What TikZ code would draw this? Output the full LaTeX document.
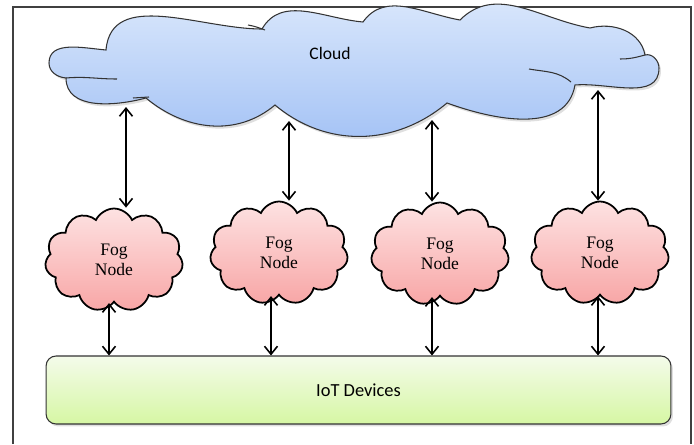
\documentclass[tikz,border=0pt]{standalone}
\usepackage{fontspec}
\setmainfont{Liberation Serif}
\newfontfamily\calfont{Carlito}
\usepackage{tikz}
\usetikzlibrary{shapes.symbols, shadows, arrows.meta, positioning}
\definecolor{skytop}{HTML}{DEEAFC}
\definecolor{skybot}{HTML}{A2C1F5}
\definecolor{fogtop}{HTML}{FDE2E2}
\definecolor{fogbot}{HTML}{F8A6A6}
\definecolor{iottop}{HTML}{F4FBEA}
\definecolor{iotbot}{HTML}{D6F7A4}

\begin{document}
\begin{tikzpicture}[x=0.02cm, y=0.02cm,
    sky/.style={draw=black!80, line width=0.6pt, top color=skytop, bottom color=skybot,
        drop shadow={shadow xshift=0.04cm, shadow yshift=-0.05cm, opacity=0.25}},
    skyline/.style={draw=black!80, line width=0.6pt},
    fog/.style={cloud, cloud puffs=11, cloud puff arc=130, cloud ignores aspect, draw=black, line width=1pt,
        top color=fogtop, bottom color=fogbot, minimum width=2.76cm, minimum height=2.06cm,
        align=center, font=\fontsize{10}{11.5}\selectfont},
    devices/.style={draw=black!80, line width=0.6pt, rounded corners=0.2cm, top color=iottop, bottom color=iotbot,
        minimum width=12.5cm, minimum height=1.36cm, font=\calfont\fontsize{10.5}{12}\selectfont,
        drop shadow={shadow xshift=0.04cm, shadow yshift=-0.05cm, opacity=0.25}},
    arrow/.style={<->, >={Straight Barb[length=1.6mm, width=2.6mm]}, line width=0.9pt},
    lbl/.style={font=\calfont\fontsize{10}{12}\selectfont}
]
    \useasboundingbox (0,0) rectangle (694,444);
    \draw[black!75, line width=0.6pt] (13,0) -- (13,437) -- (691,437) -- (691,0);

    % cloud outline
    \path[sky] (66,366) to[out=175,in=-90] (49,381) to[out=90,in=175] (106,394)
        to[out=85,in=180] (262,415) to[out=60,in=175] (363,422) to[out=55,in=170] (460,424)
        to[out=45,in=170] (590,416) to[out=15,in=100] (645,389) to[out=15,in=90] (659,376)
        to[out=-90,in=5] (575,359) to[out=-100,in=-20] (447,341)
        to[out=-140,in=-40] (275,339) to[out=-140,in=-40] (146,346) to[out=-165,in=-90] cycle;
    \draw[skyline] (66,366) to[out=5,in=180] (117,365);
    \draw[skyline] (529,375) to[out=-10,in=140] (571,362);
    \draw[skyline] (133,346) -- (149,347);
    \draw[skyline] (248,419) to[out=-10,in=160] (265,414);
    \draw[skyline] (645,389) to[out=195,in=0] (620,385);
    \node[lbl] (cloud) at (330,391) {Cloud};

    \node[fog] (fog1) at (114,184) {Fog\\Node};
    \node[fog] (fog2) at (279,191) {Fog\\Node};
    \node[fog] (fog3) at (440,190) {Fog\\Node};
    \node[fog] (fog4) at (600,191) {Fog\\Node};

    \node[devices] (iot) at (358.5,54) {IoT Devices};

    \coordinate (up1) at (126,337);
    \coordinate (up2) at (289,323);
    \coordinate (up3) at (432,324);
    \coordinate (up4) at (598,354);
    \draw[arrow] (fog1.north -| up1) -- (up1);
    \draw[arrow] (fog2.north -| up2) -- (up2);
    \draw[arrow] (fog3.north -| up3) -- (up3);
    \draw[arrow] (fog4.north -| up4) -- (up4);

    \coordinate (dn1) at (109,0);
    \coordinate (dn2) at (271,0);
    \coordinate (dn3) at (432,0);
    \coordinate (dn4) at (598,0);
    \draw[arrow] (fog1.south -| dn1) -- (iot.north -| dn1);
    \draw[arrow] (fog2.south -| dn2) -- (iot.north -| dn2);
    \draw[arrow] (fog3.south -| dn3) -- (iot.north -| dn3);
    \draw[arrow] (fog4.south -| dn4) -- (iot.north -| dn4);
\end{tikzpicture}
\end{document}
